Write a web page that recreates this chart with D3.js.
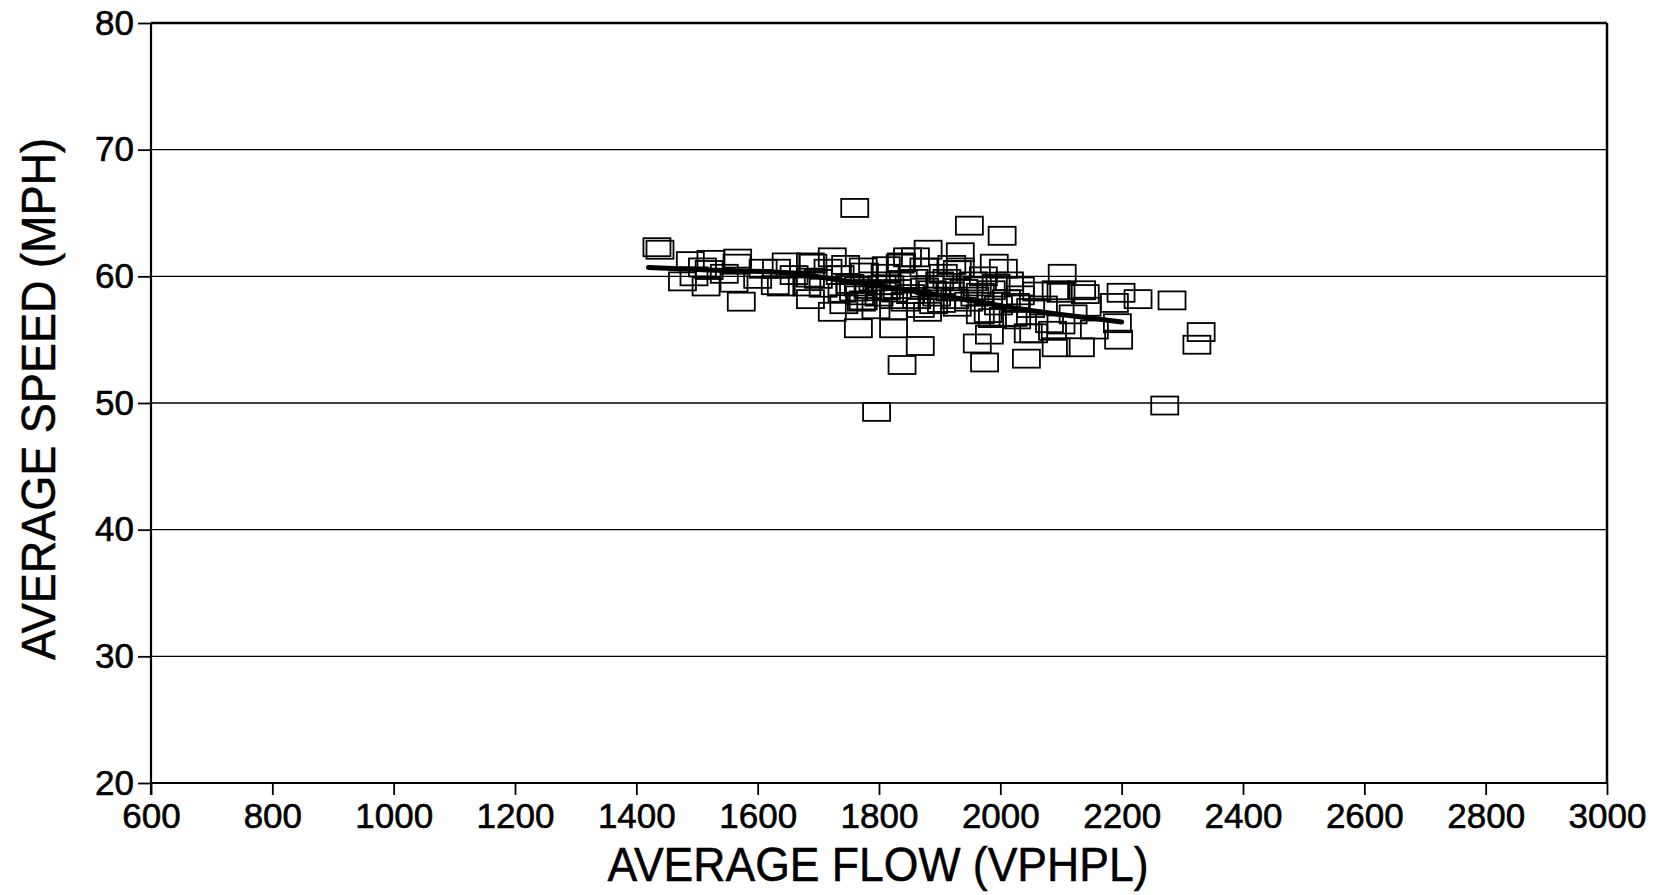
<!DOCTYPE html>
<html>
<head>
<meta charset="utf-8">
<script src="https://cdn.jsdelivr.net/npm/d3@7"></script>
<style>
  html, body { margin: 0; padding: 0; background: #fff; }
  svg { display: block; }
  text { font-family: "Liberation Sans", Arial, Helvetica, sans-serif; fill: #000; }
</style>
</head>
<body>
<svg id="chart" width="1663" height="895"></svg>
<script>
// ---- data ----
const xTicks = [600, 800, 1000, 1200, 1400, 1600, 1800, 2000, 2200, 2400, 2600, 2800, 3000];
const yTicks = [20, 30, 40, 50, 60, 70, 80];
const xTitle = "AVERAGE FLOW (VPHPL)";
const yTitle = "AVERAGE SPEED (MPH)";

const flow = [
  1434, 1439, 1489, 1509, 1523, 1476, 1515, 1520, 1567, 1566, 1561, 1573, 1609, 1629, 1631, 1647,
  1639, 1687, 1681, 1687, 1687, 1691, 1708, 1716, 1723, 1723, 1736, 1739, 1760, 1758, 1766, 1766,
  1771, 1774, 1776, 1774, 1796, 1818, 1824, 1824, 1824, 1835, 1837, 1838, 1840, 1847, 1860, 1868,
  1868, 1874, 1881, 1884, 1890, 1906, 1917, 1929, 1929, 1934, 1934, 1949, 1962, 1962, 1967, 1967,
  1974, 1980, 1982, 1987, 1990, 1997, 2003, 2005, 2005, 2021, 2027, 2033, 2033, 2043, 2046, 2055,
  2071, 2081, 2086, 2092, 2092, 2100, 2100, 2102, 2120, 2132, 2134, 2140, 2143, 2155, 2188, 2193,
  2195, 2199, 2227, 2271, 2283, 2324, 2331,
  1752, 1782, 1790, 1800, 1810, 1812, 1830, 1852, 1858, 1862, 1875, 1895, 1900, 1912, 1925, 1940,
  1948, 1955, 1972, 1985, 2010, 2015, 2050, 2060, 1700, 1660, 1600, 1545, 1495, 1742, 1795, 1880,
  1745, 1812, 1920, 1768, 1805, 1843, 1888, 1903, 1958, 1993, 2025
];
const speed = [
  62.3, 62.1, 61.2, 60.7, 61.3, 59.6, 59.2, 60.5, 61.4, 61.0, 59.5, 58.0, 60.6, 59.3, 60.6, 61.1,
  59.2, 61.1, 59.2, 58.2, 59.9, 61.0, 59.1, 60.6, 61.5, 57.2, 60.1, 58.7, 65.4, 58.8, 59.2, 55.9,
  58.0, 60.7, 60.3, 58.1, 49.3, 59.3, 58.2, 57.3, 55.9, 61.0, 61.1, 53.0, 59.7, 61.5, 61.5, 57.5,
  54.5, 60.7, 62.1, 59.3, 57.8, 60.2, 58.8, 57.6, 60.5, 61.9, 60.7, 64.0, 59.2, 54.7, 58.7, 57.0,
  53.2, 57.1, 55.4, 56.7, 61.0, 57.7, 63.2, 60.6, 56.8, 56.8, 56.6, 59.2, 58.5, 53.5, 55.5, 55.5,
  57.7, 56.3, 55.7, 58.9, 54.4, 58.7, 56.2, 60.2, 57.0, 54.4, 58.9, 58.6, 57.6, 55.8, 57.9, 56.3,
  55.0, 58.7, 58.2, 49.8, 58.1, 54.6, 55.6,
  59.4, 59.0, 59.6, 58.4, 60.2, 58.9, 59.0, 58.6, 59.8, 58.2, 59.1, 58.4, 59.6, 59.8, 58.2, 59.0,
  58.0, 59.6, 60.0, 58.9, 58.2, 59.6, 57.5, 58.8, 59.8, 60.1, 59.8, 60.2, 60.0, 57.8, 57.4, 57.2,
  60.9, 60.8, 60.9, 58.5, 59.3, 58.0, 58.9, 57.9, 58.4, 59.4, 57.9
];

// fitted curve
const fitFlow = [1420, 1520, 1640, 1750, 1850, 1950, 2050, 2150, 2200];
const fitSpeed = [60.7, 60.5, 60.3, 59.6, 58.9, 58.1, 57.3, 56.7, 56.4];

// ---- layout ----
const W = 1663, H = 895;
const margin = { left: 151, top: 23, right: 56, bottom: 112 };
const svg = d3.select("#chart");

const x = d3.scaleLinear().domain([600, 3000]).range([margin.left, W - margin.right]);
const y = d3.scaleLinear().domain([20, 80]).range([H - margin.bottom, margin.top]);

// horizontal gridlines
svg.append("g").selectAll("line")
  .data(yTicks.filter(d => d > 20))
  .join("line")
  .attr("x1", x(600)).attr("x2", x(3000))
  .attr("y1", d => y(d)).attr("y2", d => y(d))
  .attr("stroke", "#000")
  .attr("stroke-width", d => d === 80 ? 2.5 : 1.4);

// right border
svg.append("line")
  .attr("x1", x(3000)).attr("x2", x(3000))
  .attr("y1", y(80)).attr("y2", y(20))
  .attr("stroke", "#000").attr("stroke-width", 2.5);

// x axis
const xAxis = d3.axisBottom(x).tickValues(xTicks).tickSize(12).tickPadding(8).tickFormat(d3.format("d"));
const gx = svg.append("g").attr("transform", `translate(0,${y(20)})`).call(xAxis);
gx.select(".domain").attr("stroke", "#000").attr("stroke-width", 2).attr("d", `M${x(600)},0H${x(3000)}`);
gx.selectAll(".tick line").attr("stroke", "#000").attr("stroke-width", 1.8);
gx.selectAll(".tick text").attr("font-size", 35).attr("font-family", "Liberation Sans, Arial, sans-serif")
  .attr("fill", "#000").attr("stroke", "#000").attr("stroke-width", 0.6);

// y axis
const yAxis = d3.axisLeft(y).tickValues(yTicks).tickSize(13).tickPadding(4).tickFormat(d3.format("d"));
const gy = svg.append("g").attr("transform", `translate(${x(600)},0)`).call(yAxis);
gy.select(".domain").attr("stroke", "#000").attr("stroke-width", 2.2).attr("d", `M0,${y(80)}V${y(20) + 12}`);
gy.selectAll(".tick line").attr("stroke", "#000").attr("stroke-width", 1.8);
gy.selectAll(".tick text").attr("font-size", 35).attr("font-family", "Liberation Sans, Arial, sans-serif")
  .attr("fill", "#000").attr("stroke", "#000").attr("stroke-width", 0.6);

// scatter boxes
const pts = flow.map((f, i) => ({ f, s: speed[i] }));
const bw = 27, bh = 18;
svg.append("g").selectAll("rect")
  .data(pts)
  .join("rect")
  .attr("x", d => x(d.f) - bw / 2)
  .attr("y", d => y(d.s) - bh / 2)
  .attr("width", bw).attr("height", bh)
  .attr("fill", "none")
  .attr("stroke", "#000")
  .attr("stroke-width", 1.8);

// fit line
const fit = fitFlow.map((f, i) => ({ f, s: fitSpeed[i] }));
svg.append("path")
  .datum(fit)
  .attr("fill", "none")
  .attr("stroke", "#000")
  .attr("stroke-width", 5)
  .attr("stroke-linecap", "round")
  .attr("d", d3.line().x(d => x(d.f)).y(d => y(d.s)).curve(d3.curveMonotoneX));

// axis titles
svg.append("text")
  .attr("x", 878).attr("y", 881)
  .attr("text-anchor", "middle")
  .attr("font-size", 48)
  .attr("stroke", "#000").attr("stroke-width", 0.5)
  .attr("textLength", 541).attr("lengthAdjust", "spacingAndGlyphs")
  .text(xTitle);

svg.append("text")
  .attr("transform", "translate(55,399) rotate(-90)")
  .attr("text-anchor", "middle")
  .attr("font-size", 49)
  .attr("stroke", "#000").attr("stroke-width", 0.5)
  .attr("textLength", 522).attr("lengthAdjust", "spacingAndGlyphs")
  .text(yTitle);
</script>
</body>
</html>
